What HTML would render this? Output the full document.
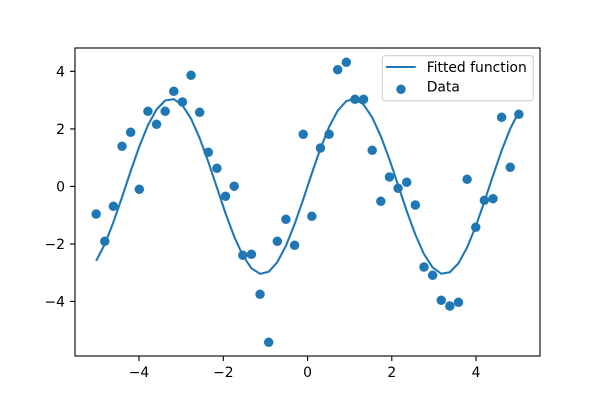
<!DOCTYPE html>
<html>
<head>
<meta charset="utf-8">
<style>
html, body { margin: 0; padding: 0; background: #ffffff; }
svg { display: block; }
text { font-family: "DejaVu Sans", "Liberation Sans", sans-serif; font-size: 13.89px; fill: #000; }
</style>
</head>
<body>
<svg width="600" height="400" viewBox="0 0 600 400" xmlns="http://www.w3.org/2000/svg">
<defs>
<marker id="dot" markerWidth="12" markerHeight="12" refX="6" refY="6" markerUnits="userSpaceOnUse" overflow="visible">
<circle cx="6" cy="6" r="4.75" fill="#1f77b4"/>
</marker>
</defs>
<rect x="0" y="0" width="600" height="400" fill="#ffffff"/>
<polyline fill="none" stroke="#1f77b4" stroke-width="2.08" stroke-linejoin="round" points="96.15,260.95 104.78,244.16 113.40,222.22 122.03,197.15 130.66,171.13 139.29,146.47 147.91,125.28 156.54,109.52 165.17,100.52 173.79,99.09 182.42,105.33 191.05,118.69 199.67,138.19 208.30,161.79 216.93,187.55 225.56,213.37 234.18,236.54 242.81,255.40 251.44,268.28 260.06,273.89 268.69,271.79 277.32,262.16 285.94,245.83 294.57,224.29 303.20,199.42 311.83,173.38 320.45,148.51 329.08,126.97 337.71,110.64 346.33,101.01 354.96,98.91 363.59,104.52 372.21,117.40 380.84,136.26 389.47,159.43 398.10,185.25 406.72,211.01 415.35,234.61 423.98,254.11 432.60,267.48 441.23,273.71 449.86,272.28 458.48,263.28 467.11,247.52 475.74,226.33 484.37,201.67 492.99,175.65 501.62,150.58 510.25,128.64 518.87,111.85"/>
<polyline fill="none" stroke="none" marker-start="url(#dot)" marker-mid="url(#dot)" marker-end="url(#dot)" points="96.15,214 104.78,241.3 113.40,206.3 122.03,146.3 130.66,132.3 139.29,189.3 147.91,111.3 156.54,124.3 165.17,111.3 173.79,91.3 182.42,102 191.05,75.3 199.67,112.3 208.30,152.3 216.93,168.3 225.56,196.3 234.18,186.2 242.81,255.3 251.44,254.3 260.06,294.3 268.69,342.3 277.32,241.3 285.94,219.3 294.57,245.3 303.20,134.3 311.83,216.3 320.45,148 329.08,134.3 337.71,69.7 346.33,62.3 354.96,99.3 363.59,99.3 372.21,150.3 380.84,201.3 389.47,177 398.10,188.3 406.72,182.3 415.35,205 423.98,267 432.60,275.3 441.23,300.3 449.86,306 458.48,302.3 467.11,179.3 475.74,227.3 484.37,200.3 492.99,198.7 501.62,117.3 510.25,167.3 518.87,114.3"/>
<rect x="75" y="48" width="465" height="308" fill="none" stroke="#000" stroke-width="1.1"/>
<path stroke="#000" stroke-width="1.1" fill="none" d="M139 356v5M223.3 356v5M307.6 356v5M391.8 356v5M476 356v5M70 71.3h5M70 128.9h5M70 186.4h5M70 243.9h5M70 301.4h5"/>
<text x="139" y="377" text-anchor="middle">−4</text>
<text x="223.3" y="377" text-anchor="middle">−2</text>
<text x="307.6" y="377" text-anchor="middle">0</text>
<text x="391.8" y="377" text-anchor="middle">2</text>
<text x="476" y="377" text-anchor="middle">4</text>
<text x="65" y="76.6" text-anchor="end">4</text>
<text x="65" y="134.2" text-anchor="end">2</text>
<text x="65" y="191.7" text-anchor="end">0</text>
<text x="65" y="249.2" text-anchor="end">−2</text>
<text x="65" y="306.7" text-anchor="end">−4</text>
<rect x="382.3" y="55.7" width="151" height="45" rx="2.8" ry="2.8" fill="#ffffff" fill-opacity="0.8" stroke="#cccccc" stroke-width="1"/>
<line x1="386" y1="67" x2="415.7" y2="67" stroke="#1f77b4" stroke-width="2.08"/>
<text x="426.7" y="72">Fitted function</text>
<circle cx="401" cy="89.3" r="4.75" fill="#1f77b4"/>
<text x="426.7" y="91.7">Data</text>
</svg>
</body>
</html>
